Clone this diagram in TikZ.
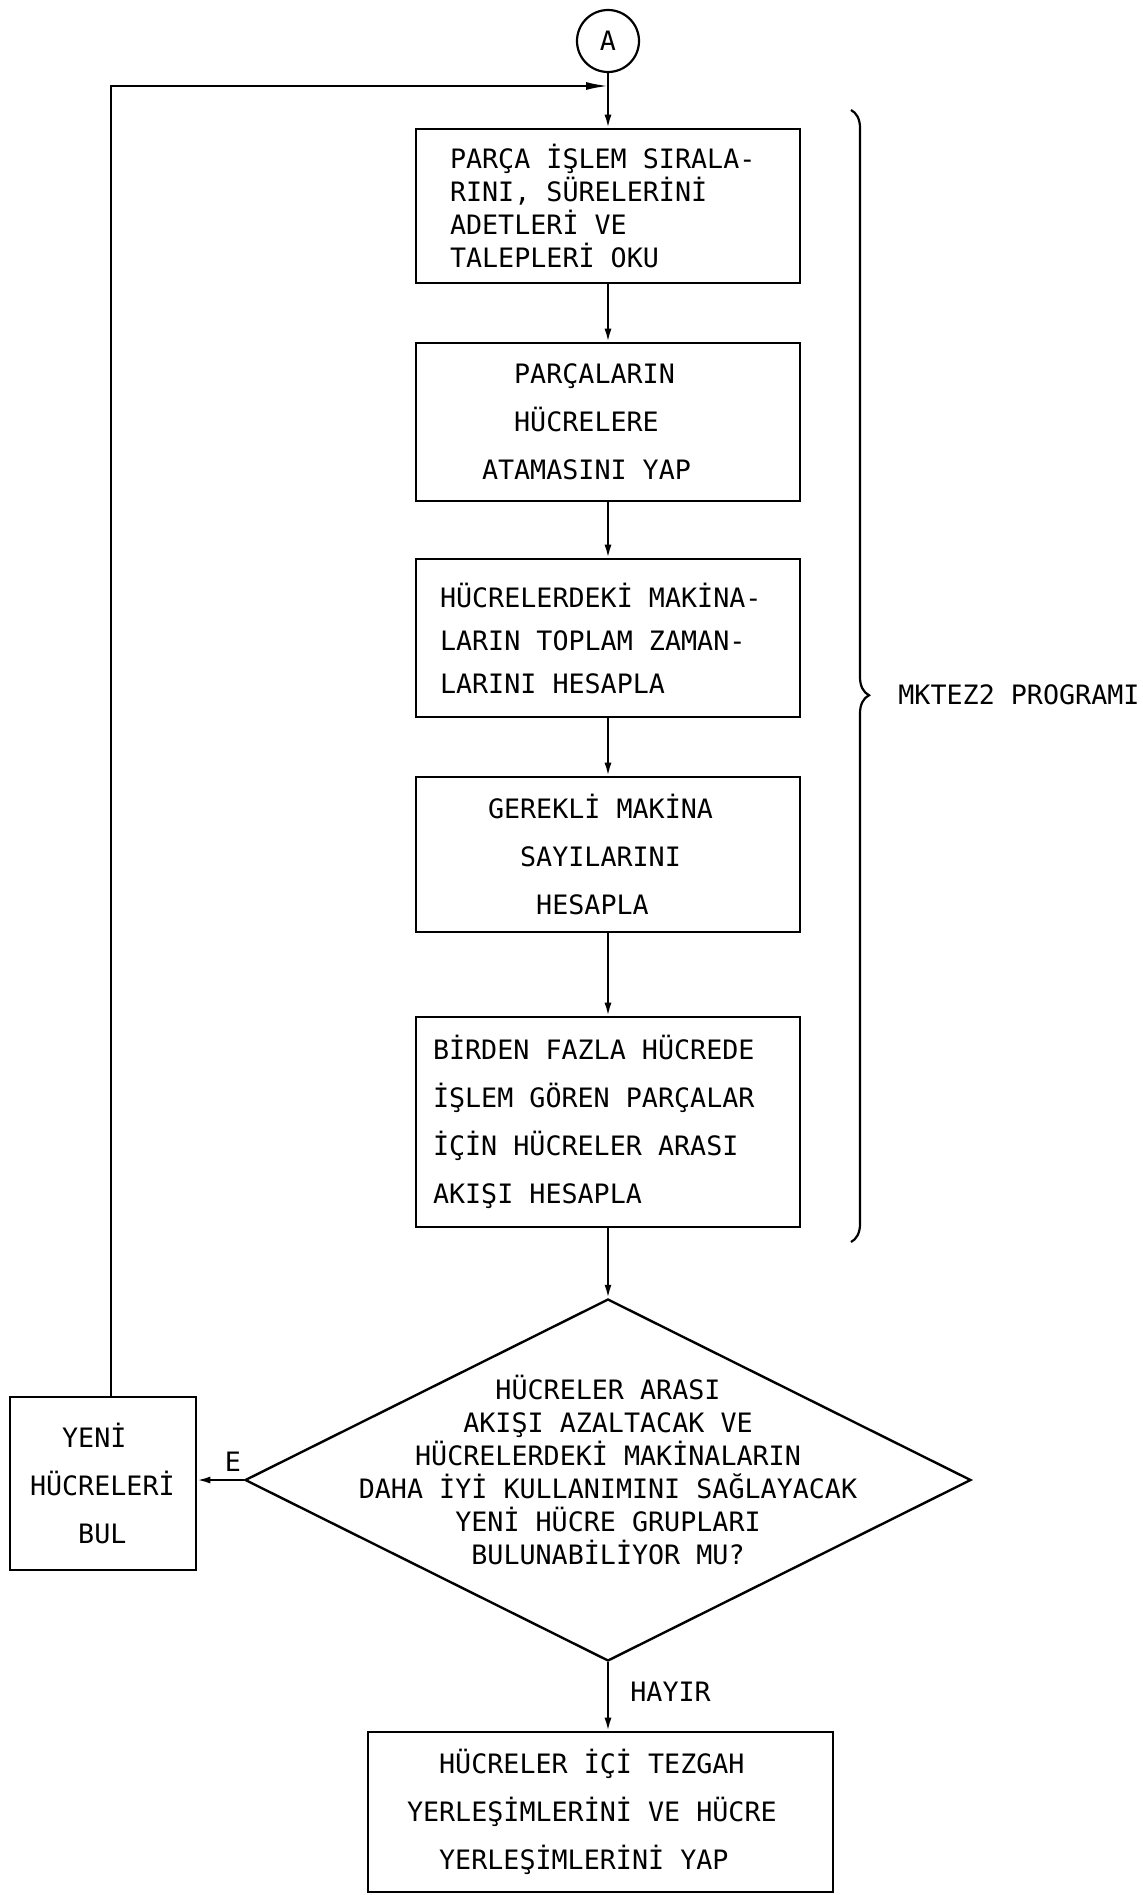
\documentclass[tikz,border=0pt]{standalone}
\usepackage{fontspec}
\usetikzlibrary{arrows.meta,shapes.geometric,decorations.pathreplacing}
\newfontfamily\typewr{DejaVu Sans Mono}
\tikzset{
    every node/.style={inner sep=0pt, font=\typewr\fontsize{13.35}{24}\selectfont},
    lskip/.style={font=\typewr\fontsize{13.35}{#1}\selectfont},
    proc/.style={draw, line width=1.3pt, align=left,
      execute at begin node={\spaceskip=0pt\xspaceskip=0pt}},
    decision/.style={diamond, draw, line width=1.2pt, minimum width=363pt, minimum height=181pt},
    conn/.style={line width=1pt, -{Latex[length=6.5pt,width=3.5pt]}}
}

\begin{document}
\begin{tikzpicture}[x=0.5pt,y=-0.5pt]
  \useasboundingbox[fill=white] (0,0) rectangle (1142,1895);

  \node[circle, draw, line width=1.1pt, minimum size=31pt] (A) at (608,41) {A};
  \coordinate (join) at (608,86);

  \node[proc, inner xsep=17pt, text width=158pt, minimum height=77pt, lskip=16.5pt] (b1) at (608,206)
    {PARÇA İŞLEM SIRALA-\\RINI, SÜRELERİNİ\\ADETLERİ VE\\TALEPLERİ OKU};
  \node[proc, inner xsep=33pt, text width=126pt, minimum height=79pt] (b2) at (608,422)
    {\phantom{XX}PARÇALARIN\\\phantom{XX}HÜCRELERE\\ATAMASINI YAP};
  \node[proc, inner xsep=12pt, text width=168pt, minimum height=79pt, lskip=21.5pt] (b3) at (608,638)
    {HÜCRELERDEKİ MAKİNA-\\LARIN TOPLAM ZAMAN-\\LARINI HESAPLA};
  \node[proc, inner xsep=36pt, text width=120pt, minimum height=77.5pt] (b4) at (608,854.5)
    {GEREKLİ MAKİNA\\\phantom{XX}SAYILARINI\\\phantom{XXX}HESAPLA};
  \node[proc, inner xsep=8.5pt, text width=175pt, minimum height=105pt] (b5) at (608,1122)
    {BİRDEN FAZLA HÜCREDE\\İŞLEM GÖREN PARÇALAR\\İÇİN HÜCRELER ARASI\\AKIŞI HESAPLA};

  % karar
  \node[decision] (dia) at (608,1480) {};
  \node[align=center, lskip=16.5pt] (diaq) at (608,1470)
    {HÜCRELER ARASI\\AKIŞI AZALTACAK VE\\HÜCRELERDEKİ MAKİNALARIN\\DAHA İYİ KULLANIMINI SAĞLAYACAK\\YENİ HÜCRE GRUPLARI\\BULUNABİLİYOR MU?};

  \node[proc, inner xsep=10pt, text width=73pt, minimum height=86.5pt] (yb) at (103,1483.5)
    {\phantom{XX}YENİ\\HÜCRELERİ\\\phantom{XXX}BUL};
  \node[proc, inner xsep=19.5pt, text width=193.5pt, minimum height=80pt] (fin) at (600.5,1812)
    {\phantom{XX}HÜCRELER İÇİ TEZGAH\\YERLEŞİMLERİNİ VE HÜCRE\\\phantom{XX}YERLEŞİMLERİNİ YAP};

  \node (e) at (233,1462) {E};
  \node[anchor=west] (hayir) at (630,1692) {HAYIR};

  \coordinate (bt) at (851,110);
  \coordinate (bb) at (851,1242);
  \node[anchor=west] (prog) at (898,695) {MKTEZ2 PROGRAMI};

  \draw[conn] (A) -- (b1);
  \draw[conn] (b1) -- (b2);
  \draw[conn] (b2) -- (b3);
  \draw[conn] (b3) -- (b4);
  \draw[conn] (b4) -- (b5);
  \draw[conn] (b5) -- (dia);
  \draw[conn] (dia.west) -- (dia.west -| yb.east);
  \draw[conn] (dia.south) -- (dia.south |- fin.north);
  \draw[conn, -{Latex[length=11pt,width=4pt]}] ([xshift=4pt]yb.north) |- (join);

  \draw[line width=1.1pt, decorate, decoration={brace, amplitude=9pt, aspect=0.517}] (bt) -- (bb);
\end{tikzpicture}
\end{document}
